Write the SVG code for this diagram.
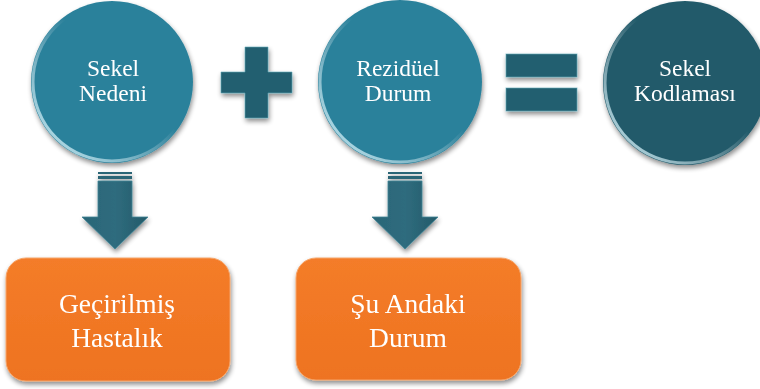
<svg xmlns="http://www.w3.org/2000/svg" width="760" height="389" viewBox="0 0 760 389">
  <defs>
    <filter id="shadow" x="-20%" y="-20%" width="140%" height="150%">
      <feGaussianBlur in="SourceAlpha" stdDeviation="2.5"/>
      <feOffset dx="1" dy="3" result="b"/>
      <feComponentTransfer><feFuncA type="linear" slope="0.45"/></feComponentTransfer>
      <feMerge><feMergeNode/><feMergeNode in="SourceGraphic"/></feMerge>
    </filter>
    <linearGradient id="rimLow" x1="1" y1="0" x2="0" y2="1">
      <stop offset="0.45" stop-color="#ffffff" stop-opacity="0"/>
      <stop offset="0.85" stop-color="#cfeef6" stop-opacity="0.75"/>
      <stop offset="1" stop-color="#ffffff" stop-opacity="0.2"/>
    </linearGradient>
    <linearGradient id="orange" x1="0" y1="0" x2="0" y2="1">
      <stop offset="0" stop-color="#f47c29"/>
      <stop offset="1" stop-color="#ee7320"/>
    </linearGradient>
    <linearGradient id="arrowFill" x1="0" y1="0" x2="1" y2="0">
      <stop offset="0" stop-color="#2a6576"/>
      <stop offset="0.5" stop-color="#2f6c7e"/>
      <stop offset="1" stop-color="#245a69"/>
    </linearGradient>
    <style>
      .lbl { font-family: "Liberation Serif", "Times New Roman", serif; fill: #ffffff; text-anchor: middle; }
      .c-lbl { font-size: 23.5px; }
      .b-lbl { font-size: 27.5px; }
      .teal { fill: #2b819b; }
      .dark { fill: #225a6a; }
      .rim { fill: none; stroke: url(#rimLow); stroke-width: 3; }
      .sign { fill: #245f6f; stroke: #5aa6b8; stroke-width: 1; stroke-opacity: 0.6; }
      .box { fill: url(#orange); stroke: #f5a56a; stroke-width: 1; }
      .arrow { fill: url(#arrowFill); stroke: #3f8496; stroke-width: 0.8; }
      .stripe { fill: #2a6576; }
    </style>
  </defs>

  <!-- cause circle -->
  <g id="sekel-nedeni" filter="url(#shadow)">
    <circle class="teal" cx="112" cy="82" r="81"/>
    <circle class="rim" cx="112" cy="82" r="79"/>
    <text class="lbl c-lbl" x="113" y="76">Sekel</text>
    <text class="lbl c-lbl" x="113" y="101">Nedeni</text>
  </g>

  <!-- plus sign -->
  <g id="plus" filter="url(#shadow)">
    <path class="sign" d="M245 47 H268 V72 H292 V93 H268 V118 H245 V93 H221 V72 H245 Z"/>
  </g>

  <!-- residual state circle -->
  <g id="rezidüel-durum" filter="url(#shadow)">
    <circle class="teal" cx="400" cy="82" r="82"/>
    <circle class="rim" cx="400" cy="82" r="80"/>
    <text class="lbl c-lbl" x="398" y="76">Rezidüel</text>
    <text class="lbl c-lbl" x="398" y="101">Durum</text>
  </g>

  <!-- equals sign -->
  <g id="equals" filter="url(#shadow)">
    <rect class="sign" x="506" y="54" width="71" height="23"/>
    <rect class="sign" x="506" y="88" width="71" height="23"/>
  </g>

  <!-- result circle -->
  <g id="sekel-kodlamasi" filter="url(#shadow)">
    <circle class="dark" cx="685" cy="83" r="82"/>
    <circle class="rim" cx="685" cy="83" r="80"/>
    <text class="lbl c-lbl" x="685" y="76">Sekel</text>
    <text class="lbl c-lbl" x="685" y="101">Kodlaması</text>
  </g>

  <!-- downward arrows -->
  <g id="connectors">
    <g filter="url(#shadow)">
      <rect class="stripe" x="98" y="172" width="34" height="2"/>
      <rect class="stripe" x="98" y="176" width="34" height="3"/>
      <path class="arrow" d="M98 181 H132 V217 H148 L115 249 L82 217 H98 Z"/>
    </g>
    <g filter="url(#shadow)">
      <rect class="stripe" x="388" y="172" width="34" height="2"/>
      <rect class="stripe" x="388" y="176" width="34" height="3"/>
      <path class="arrow" d="M388 181 H422 V217 H438 L405 249 L372 217 H388 Z"/>
    </g>
  </g>

  <!-- past illness box -->
  <g id="gecirilmis-hastalik" filter="url(#shadow)">
    <rect class="box" x="6" y="258" width="224" height="123" rx="20"/>
    <text class="lbl b-lbl" x="117" y="313">Geçirilmiş</text>
    <text class="lbl b-lbl" x="117" y="347">Hastalık</text>
  </g>

  <!-- current state box -->
  <g id="su-andaki-durum" filter="url(#shadow)">
    <rect class="box" x="296" y="258" width="225" height="122" rx="20"/>
    <text class="lbl b-lbl" x="408" y="313">Şu Andaki</text>
    <text class="lbl b-lbl" x="408" y="347">Durum</text>
  </g>
</svg>
